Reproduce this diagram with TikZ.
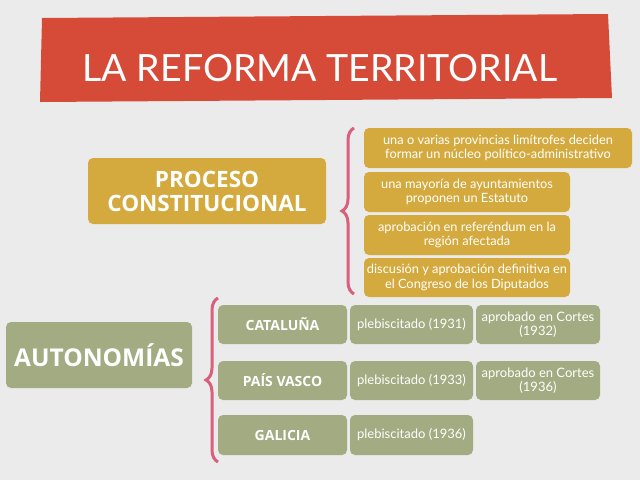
\documentclass[tikz,border=0pt]{standalone}
\usepackage{fontspec}
\setmainfont{Lato}
\newfontfamily\blkf{Open Sans}
\newcommand\blk{\blkf\bfseries}
\usetikzlibrary{decorations.pathreplacing}
\definecolor{bg}{HTML}{EBEBEB}
\definecolor{gold}{HTML}{D4AA3E}
\definecolor{sage}{HTML}{A3AB82}
\definecolor{pinkb}{HTML}{D9607A}
\definecolor{redb}{HTML}{D64A38}
\tikzset{x=1pt,y=-1pt,
 gbox/.style={fill=gold,rounded corners=5pt,text=white,align=center,font=\fontsize{12.8}{14.5}\selectfont},
 sbox/.style={fill=sage,rounded corners=5pt,text=white,align=center,font=\fontsize{13}{14.5}\selectfont},
 brc/.style={draw=pinkb,line width=3pt,decorate,decoration={brace,amplitude=12pt}}}
\begin{document}
\begin{tikzpicture}
\fill[bg] (0,0) rectangle (640,480);
\useasboundingbox (0,0) rectangle (640,480);
\fill[redb] (42,18) -- (608,14) -- (612,98) -- (40,102) -- cycle;
\node[text=white,font=\fontsize{37.5}{38}\selectfont] (title) at (320,68) {LA REFORMA TERRITORIAL};
\path[gbox] (88,158) rectangle (326,224);
\node[text=white,font=\blk\fontsize{22.5}{24}\selectfont,align=center] (pc) at (207,191) {PROCESO\\CONSTITUCIONAL};
\path[gbox] (364,128) rectangle (632,168) node[midway] (g1) {una o varias provincias limítrofes deciden\\formar un núcleo político-administrativo};
\path[gbox] (364,172) rectangle (570,212) node[midway] (g2) {una mayoría de ayuntamientos\\proponen un Estatuto};
\path[gbox] (364,215) rectangle (570,255) node[midway] (g3) {aprobación en referéndum en la\\región afectada};
\path[gbox] (364,258) rectangle (570,297) node[midway] (g4) {discusión y aprobación definitiva en\\el Congreso de los Diputados};
\draw[brc] (354,294) -- (354,128);
\path[sbox] (6,322) rectangle (192,388);
\node[text=white,font=\blk\fontsize{24.5}{26}\selectfont] (au) at (99,355) {AUTONOMÍAS};
\draw[brc] (218,462) -- (218,298);
\path[sbox] (218,305) rectangle (347,344) node[midway,font=\blk\fontsize{14}{16}\selectfont] (c1) {CATALUÑA};
\path[sbox] (350,305) rectangle (473,344) node[midway] (c2) {plebiscitado (1931)};
\path[sbox] (476,305) rectangle (600,344) node[midway] (c3) {aprobado en Cortes\\(1932)};
\path[sbox] (218,361) rectangle (347,400) node[midway,font=\blk\fontsize{14}{16}\selectfont] (p1) {PAÍS VASCO};
\path[sbox] (350,361) rectangle (473,400) node[midway] (p2) {plebiscitado (1933)};
\path[sbox] (476,361) rectangle (600,400) node[midway] (p3) {aprobado en Cortes\\(1936)};
\path[sbox] (218,415) rectangle (347,455) node[midway,font=\blk\fontsize{14}{16}\selectfont] (l1) {GALICIA};
\path[sbox] (350,415) rectangle (473,455) node[midway] (l2) {plebiscitado (1936)};
\end{tikzpicture}
\end{document}
